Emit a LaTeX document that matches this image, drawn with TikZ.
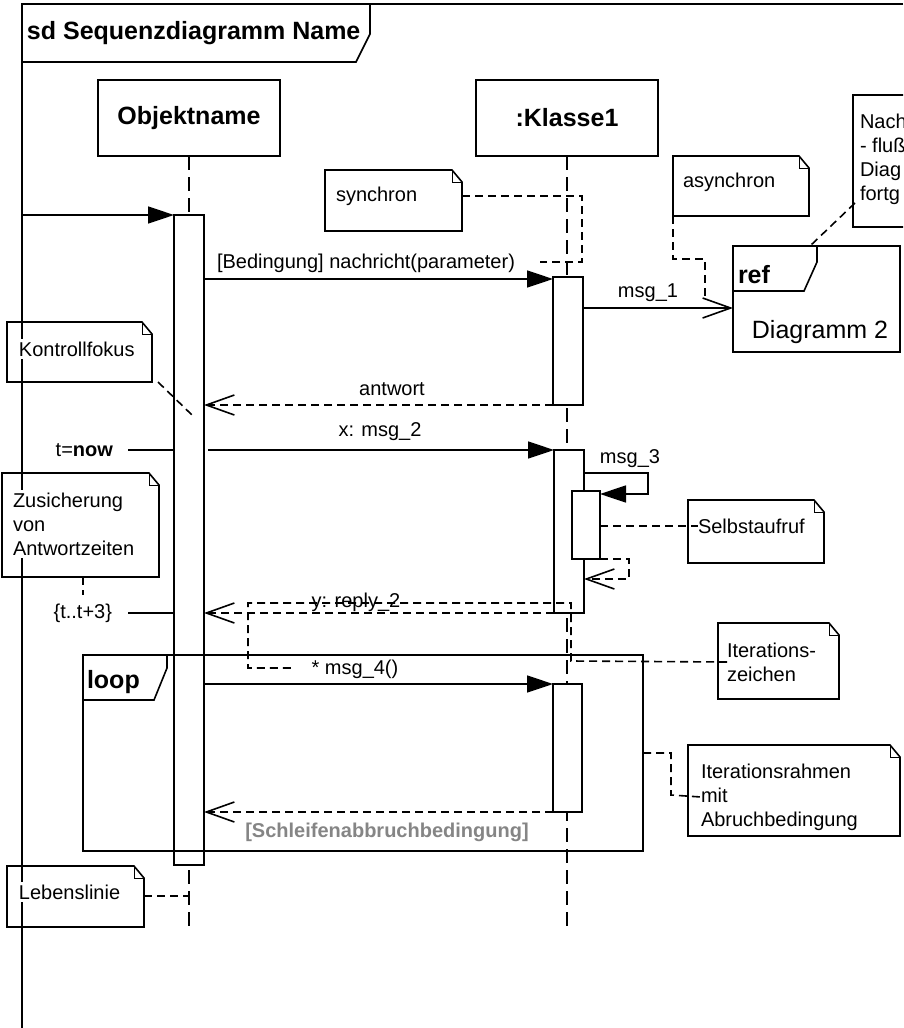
\documentclass[tikz,border=0pt]{standalone}
\usepackage{fontspec}
\setmainfont{Liberation Sans}
\usetikzlibrary{arrows.meta,calc}
\newcommand{\umlnote}[4]{%
  \draw[notebox] (#1,#2) -- ({#3-10},#2) -- (#3,{#2+12}) -- (#3,#4) -- (#1,#4) -- cycle;
  \draw[line width=1pt] ({#3-10},#2) -- ({#3-10},{#2+12}) -- (#3,{#2+12});}
\begin{document}
\begin{tikzpicture}[x=1pt,y=-1pt,line width=1.6pt,line join=miter,
  every node/.style={inner sep=0pt,outer sep=0pt},
  txt/.style={font=\fontsize{20}{24}\selectfont,align=left},
  btxt/.style={font=\fontsize{25}{29}\selectfont\bfseries},
  objbox/.style={draw,fill=white,btxt,minimum width=182pt,minimum height=76pt},
  act/.style={draw,fill=white,minimum width=30pt,anchor=north},
  lifeline/.style={dash pattern=on 14pt off 7pt},
  ndash/.style={dash pattern=on 8pt off 5pt},
  sync/.style={-{Triangle[length=26pt,width=17pt]}},
  async/.style={-{Straight Barb[length=28pt,width=20pt]}},
  ret/.style={ndash,-{Straight Barb[length=28pt,width=20pt]}},
  notebox/.style={draw,fill=white},
  notetxt/.style={txt,anchor=west},
  notetxtw/.style={txt,anchor=west,fill=white,inner sep=3pt},
]
\useasboundingbox (0,0) rectangle (903,1028);
\clip (0,0) rectangle (903,1028);

% objects and lifelines
\node[objbox] (obj) at (189,118) {Objektname};
\node[objbox] (k1) at (567,118) {:Klasse1};
\coordinate (objend) at (189,927);
\coordinate (k1end) at (567,927);
\draw[lifeline] (obj.south) -- (objend);
\draw[lifeline] (k1.south) -- (k1end);

% activations
\node[act,minimum height=650pt] (a0) at (189,215) {};
\node[act,minimum height=128pt] (a1) at (568,277) {};
\node[act,minimum height=163pt] (a2) at (569,450) {};
\node[act,minimum width=28pt,minimum height=68pt] (a3) at (586,491) {};
\node[act,minimum width=29pt,minimum height=128pt] (a4) at (567.5,684) {};

% left notes (frame line drawn over their outlines)
\umlnote{7}{322}{152}{382}
\umlnote{2}{473}{159}{577}
\umlnote{7}{866}{144}{927}

% frame
\coordinate (fr) at (903,4);
\coordinate (fl) at (22,4);
\coordinate (fb) at (22,1035);
\draw (fr) -- (fl) -- (fb);
\draw (22,62) -- (356,62) -- (370,34) -- (370,4);
\node[btxt,anchor=west] (sdtitle) at (27,33) {sd Sequenzdiagramm Name};

% left note texts
\node[notetxtw] (kontr) at (16,349) {Kontrollfokus};
\node[notetxtw] (zusich) at (10,524) {Zusicherung\\von\\Antwortzeiten};
\node[notetxtw] (leben) at (16,892) {Lebenslinie};
\coordinate (zusichb) at (83,577);
\coordinate (zusiche) at (83,595);
\draw[ndash] (zusichb) -- (zusiche);
\coordinate (kontrc) at (158,382);
\coordinate (kontre) at (192,415);
\draw[ndash] (kontrc) -- (kontre);
\draw[ndash] (144,896) -- (objend |- 0,896);

% entry message
\coordinate (entry) at (22,215);
\draw[sync] (entry) -- (a0.north west);

% synchronous message
\draw[sync] (a0.east |- 0,279) -- (a1.west |- 0,279);
\node[txt] (l1) at (366,263) {[Bedingung] nachricht(parameter)};

% synchron note
\umlnote{325}{170}{462}{231}
\node[notetxt] (synch) at (336,196) {synchron};
\draw[ndash] (462,196) -- (582,196) -- (582,262) -- (540,262);

% ref frame
\node[draw,anchor=north west,minimum width=167pt,minimum height=106pt] (ref) at (733,246) {};
\draw (ref.west |- 0,291) -- (804,291) -- (817,262) -- (817,246);
\node[btxt,anchor=west] (reftxt) at (738,275) {ref};
\node[font=\fontsize{25}{29}\selectfont] (refname) at (820,332) {Diagramm 2};

% msg_1
\draw[async] (a1.east |- 0,308) -- (ref.west |- 0,308);
\node[txt] (l2) at (648,293) {msg\_1};

% asynchron note
\umlnote{673}{156}{809}{216}
\node[notetxt] (asynch) at (683,182) {asynchron};
\draw[ndash] (673,216) -- (673,259) -- (705,259) -- (705,298);

% cut-off note top right (clipped by the picture edge, as in the reference)
\umlnote{853}{95}{980}{227}
\node[notetxt] (nach) at (860,159) {Nach\\- flu\ss\\Diag\\fortg};
\draw[ndash] (855,203) -- (810,246);

% antwort
\draw[ret] (a1.south west) -- (a0.east |- a1.south);
\node[txt] (l3) at (392,389) {antwort};

% t=now and msg_2
\node[txt,anchor=east] (tnow) at (113,450) {t=\textbf{now}};
\draw ([xshift=15pt]tnow.east) -- (a0.west |- tnow.east);
\draw[sync] ([xshift=4pt]a0.east |- a2.north) -- (a2.north west);
\node[txt] (l4) at (380,432) {x: msg\_2};

% msg_3 self call
\draw[sync] (a2.east |- 0,473) -- (648,473) -- (648,494) -- (a3.east |- 0,494);
\node[txt] (l5) at (630,459) {msg\_3};
\draw[ret] (a3.south east) -- (629,559) -- (629,579) -- (a2.east |- 0,579);

% Selbstaufruf note
\umlnote{688}{500}{824}{563}
\node[notetxt] (selbst) at (698,526) {Selbstaufruf};
\draw[ndash] (a3.east |- selbst.west) -- (selbst.west);

% {t..t+3} and reply_2
\node[txt,anchor=east] (tt) at (112,613) {\{t..t+3\}};
\draw ([xshift=16pt]tt.east) -- (a0.west |- tt.east);
\draw[ret] (a2.south west) -- (a0.east |- a2.south);
\node[txt] (l6) at (356,602) {y: reply\_2};

% Iterationszeichen note
\umlnote{718}{623}{839}{699}
\node[notetxt] (iterz) at (727,662) {Iterations-\\zeichen};
\draw[ndash] (iterz.west) -- (571,661) -- (571,603) -- (248,603) -- (248,668) -- (293,668);

% loop frame
\node[draw,anchor=north west,minimum width=560pt,minimum height=196pt] (loop) at (83,655) {};
\draw (loop.west |- 0,700) -- (154,700) -- (167,668) -- (167,655);
\node[btxt,anchor=west] (looptxt) at (87,682) {loop};

% msg_4 and return
\draw[sync] (a0.east |- a4.north) -- (a4.north west);
\node[txt] (l7) at (355,669) {* msg\_4()};
\draw[ret] (a4.south west) -- (a0.east |- a4.south);
\node[txt,font=\fontsize{20}{24}\selectfont\bfseries,text=black!48] (l8) at (387,832) {[Schleifenabbruchbedingung]};

% Iterationsrahmen note
\umlnote{688}{745}{900}{836}
\node[notetxt] (iterr) at (701,797) {Iterationsrahmen\\mit\\Abruchbedingung};
\draw[ndash] (loop.east |- 0,753) -- (671,753) -- (671,795) -- (iterr.west);
\end{tikzpicture}
\end{document}
